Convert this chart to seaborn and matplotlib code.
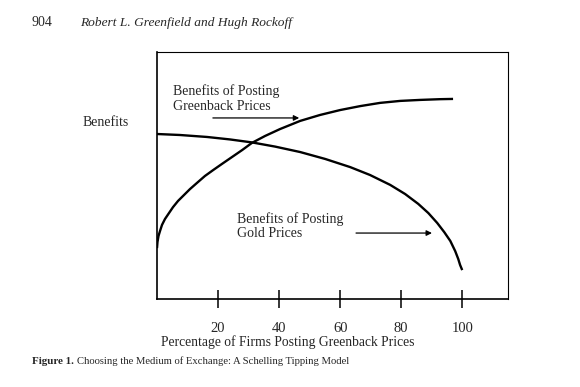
import matplotlib
matplotlib.use("Agg")
import matplotlib.pyplot as plt
import seaborn as sns
import pandas as pd

# (x = % of firms, y = benefits, arbitrary 0-100 scale)
greenback_x = [0, 0.16, 0.49, 0.98, 1.64, 2.62, 3.93, 5.25, 6.89, 8.52, 10.8, 13.1, 15.7, 18.4,
               21.3, 24.6, 27.9, 31.1, 35.4, 40.3, 46.9, 53.4, 60.0, 66.6, 73.1, 79.7, 86.2, 92.8, 97.0]
greenback_y = [20.6, 23.1, 25.5, 27.5, 30.0, 32.4, 34.8, 37.2, 39.7, 41.7, 44.5, 47.0, 49.8, 52.2,
               54.7, 57.5, 60.3, 63.2, 66.0, 68.8, 72.1, 74.5, 76.5, 78.1, 79.4, 80.2, 80.6, 80.9, 81.0]

gold_x = [0, 7.5, 16.4, 23.9, 31.1, 38.7, 46.9, 55.1, 63.3, 69.8, 76.4, 81.3, 85.6, 88.9,
          91.8, 94.1, 96.1, 97.7, 98.7, 99.3, 100.0]
gold_y = [66.8, 66.4, 65.6, 64.6, 63.4, 61.7, 59.5, 56.7, 53.4, 50.2, 46.2, 42.5, 38.5, 34.8,
          30.8, 27.1, 23.5, 19.4, 16.2, 13.8, 11.7]

tick_values = [20, 40, 60, 80, 100]
tick_labels = ["20", "40", "60", "80", "100"]

green = pd.DataFrame({"x": greenback_x, "y": greenback_y})
gold = pd.DataFrame({"x": gold_x, "y": gold_y})

sns.set_theme(style="white")
plt.rcParams["font.family"] = ["Liberation Serif", "DejaVu Serif"]

W, H = 580, 387
fig = plt.figure(figsize=(W / 100, H / 100), dpi=100)
ax = fig.add_axes([157 / W, 1 - 299 / H, (508 - 157) / W, (299 - 52) / H])


def fx(px):
    return px / W


def fy(py):
    return 1 - py / H


line_kw = dict(color="black", lw=1.7, sort=False, solid_joinstyle="round", solid_capstyle="butt")
sns.lineplot(data=green, x="x", y="y", ax=ax, **line_kw)
sns.lineplot(data=gold, x="x", y="y", ax=ax, **line_kw)

ax.set_xlim(0, 115)
ax.set_ylim(0, 100)
ax.set_xticks(tick_values)
ax.set_xticklabels(tick_labels, fontsize=10.5)
ax.set_yticks([])
ax.set_xlabel("")
ax.set_ylabel("")
ax.tick_params(axis="x", direction="inout", length=13, width=1.1, color="black", pad=10, bottom=True)
for side in ["left", "bottom"]:
    ax.spines[side].set_color("black")
    ax.spines[side].set_linewidth(1.2)
for side in ["top", "right"]:
    ax.spines[side].set_color("black")
    ax.spines[side].set_linewidth(0.8)

# annotations inside the plot
ax.text(5.2, 81.2, "Benefits of Posting\nGreenback Prices", fontsize=10, linespacing=1.15,
        va="center", ha="left")
ax.annotate("", xy=(47.5, 73.3), xytext=(17.4, 73.3),
            arrowprops=dict(arrowstyle="-|>", color="black", lw=0.9, mutation_scale=8))
ax.text(26.2, 29.6, "Benefits of Posting\nGold Prices", fontsize=10, linespacing=1.15,
        va="center", ha="left")
ax.annotate("", xy=(91, 26.7), xytext=(64.3, 26.7),
            arrowprops=dict(arrowstyle="-|>", color="black", lw=0.9, mutation_scale=8))

# page text around the figure
fig.text(fx(32), fy(23), "904", fontsize=10, va="center", ha="left")
fig.text(fx(80), fy(23), "Robert L. Greenfield and Hugh Rockoff", fontsize=9.6,
         style="italic", va="center", ha="left")
fig.text(fx(83), fy(123), "Benefits", fontsize=10, va="center", ha="left")
fig.text(fx(161), fy(342), "Percentage of Firms Posting Greenback Prices", fontsize=9.8,
         va="center", ha="left")
fig.text(fx(32), fy(361), "Figure 1.", fontsize=7.9, weight="bold", va="center", ha="left")
fig.text(fx(77), fy(361), "Choosing the Medium of Exchange: A Schelling Tipping Model",
         fontsize=7.7, va="center", ha="left")

fig.savefig("out.png", dpi=100)
